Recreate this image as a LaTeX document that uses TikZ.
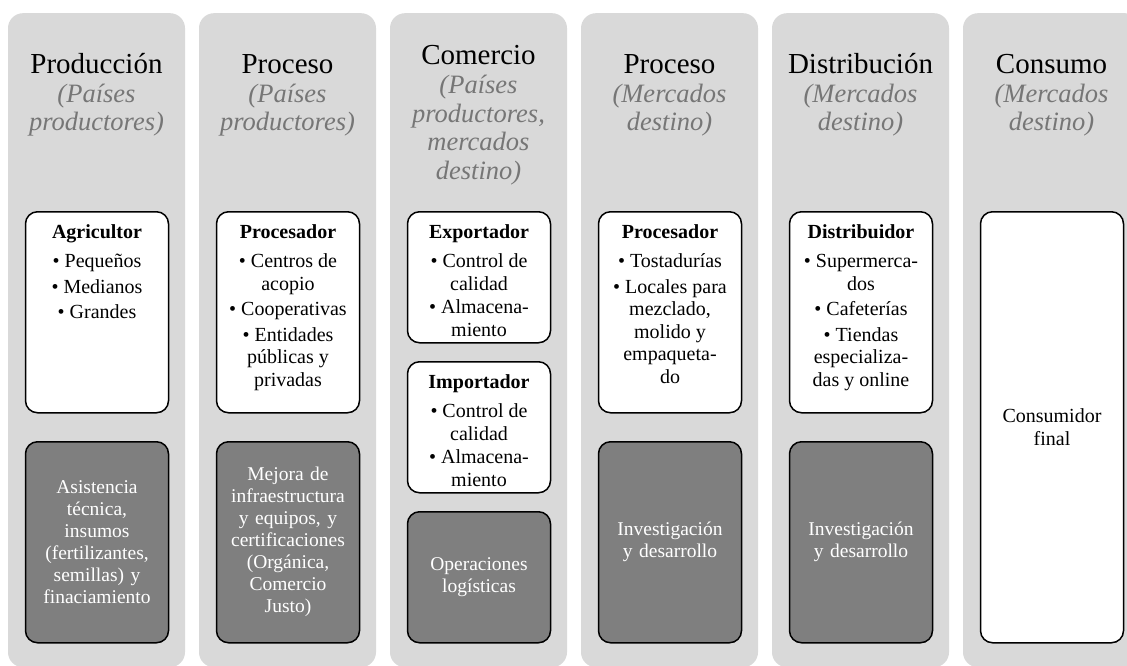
\documentclass[tikz,border=0pt]{standalone}
\usepackage{fontspec}
\setmainfont{Liberation Serif}
\usepackage{xcolor}
\usetikzlibrary{positioning}

\definecolor{colgray}{HTML}{D9D9D9}
\definecolor{boxgray}{HTML}{7F7F7F}
\definecolor{subgray}{HTML}{767676}

\newcommand{\stagefont}{\fontsize{29}{29}\selectfont}
\newcommand{\marketfont}{\fontsize{26.5}{28.5}\selectfont\itshape}
\newcommand{\boxfont}{\fontsize{20}{22.5}\selectfont}
\newcommand{\darkfont}{\fontsize{19.5}{22}\selectfont}

\begin{document}
\begin{tikzpicture}[
  x=1pt, y=-1pt,
  column/.style={fill=colgray, rounded corners=15pt, minimum width=177pt,
                 minimum height=654pt, anchor=north, inner sep=0pt},
  lightbox/.style={draw=black, line width=1.5pt, fill=white, rounded corners=12pt,
                   minimum width=143pt, anchor=north, inner sep=0pt},
  darkbox/.style={lightbox, fill=boxgray, text=white, font=\darkfont,
                  text width=136pt, align=center},
  stage/.style={font=\stagefont, anchor=base},
  market/.style={font=\marketfont, text=subgray, align=center, anchor=base},
  boxtext/.style={font=\boxfont, align=center, inner sep=0pt}
]
\useasboundingbox (0,0) rectangle (1127,666);
\clip (0,0) rectangle (1127,666);

% ---- COLUMNS ----
\node[column] (colprod) at (96.5,13) {};
\node[column] (colproc) at (287.5,13) {};
\node[column] (colcom) at (478.5,13) {};
\node[column] (colprocd) at (669.5,13) {};
\node[column] (coldist) at (860.5,13) {};
\node[column] (colcons) at (1051.5,13) {};

% ==== PRODUCCION ====
\node[stage] (tprod) at (96.5,74) {Producción};
\node[market] (mprod) at (96.5,131) {(Países\\productores)};

\node[lightbox, minimum height=201pt] (agri) at (97,211) {};
\node[boxtext, below=13pt of agri.north] (agritxt) {%
  \textbf{Agricultor}\\[7pt]
  \textbullet~Pequeños\\[3pt]
  \textbullet~Medianos\\[3pt]
  \textbullet~Grandes};

\node[darkbox, minimum height=201pt] (agrisup) at (97,441) {%
  Asistencia\\técnica,\\insumos\\(fertilizantes,\\semillas) y\\finaciamiento};

% ==== PROCESO (paises productores) ====
\node[stage] (tproc) at (287.5,74) {Proceso};
\node[market] (mproc) at (287.5,131) {(Países\\productores)};

\node[lightbox, minimum height=201pt] (proc) at (288,211) {};
\node[boxtext, below=13pt of proc.north] (proctxt) {%
  \textbf{Procesador}\\[7pt]
  \textbullet~Centros de\\acopio\\[3pt]
  \textbullet~Cooperativas\\[3pt]
  \textbullet~Entidades\\públicas y\\privadas};

\node[darkbox, minimum height=201pt] (procsup) at (288,441) {%
  Mejora de\\infraestructura\\y equipos, y\\certificaciones\\(Orgánica,\\Comercio\\Justo)};

% ==== COMERCIO ====
\node[stage] (tcom) at (478.5,65) {Comercio};
\node[market] (mcom) at (478.5,179) {(Países\\productores,\\mercados\\destino)};

\node[lightbox, minimum height=131pt] (expo) at (479,211) {};
\node[boxtext, below=13pt of expo.north] (expotxt) {%
  \textbf{Exportador}\\[7pt]
  \textbullet~Control de\\calidad\\[1pt]
  \textbullet~Almacena-\\miento};

\node[lightbox, minimum height=131pt] (impo) at (479,361) {};
\node[boxtext, below=13pt of impo.north] (impotxt) {%
  \textbf{Importador}\\[7pt]
  \textbullet~Control de\\calidad\\[1pt]
  \textbullet~Almacena-\\miento};

\node[darkbox, minimum height=131pt] (logis) at (479,511) {%
  Operaciones\\logísticas};

% ==== PROCESO (mercados destino) ====
\node[stage] (tprocd) at (669.5,74) {Proceso};
\node[market] (mprocd) at (669.5,131) {(Mercados\\destino)};

\node[lightbox, minimum height=201pt] (procd) at (670,211) {};
\node[boxtext, below=13pt of procd.north] (procdtxt) {%
  \textbf{Procesador}\\[7pt]
  \textbullet~Tostadurías\\[3pt]
  \textbullet~Locales para\\mezclado,\\molido y\\empaqueta-\\do};

\node[darkbox, minimum height=201pt] (procdsup) at (670,441) {%
  Investigación\\y desarrollo};

% ==== DISTRIBUCION ====
\node[stage] (tdist) at (860.5,74) {Distribución};
\node[market] (mdist) at (860.5,131) {(Mercados\\destino)};

\node[lightbox, minimum height=201pt] (dist) at (861,211) {};
\node[boxtext, below=13pt of dist.north] (disttxt) {%
  \textbf{Distribuidor}\\[7pt]
  \textbullet~Supermerca-\\dos\\[3pt]
  \textbullet~Cafeterías\\[3pt]
  \textbullet~Tiendas\\especializa-\\das y online};

\node[darkbox, minimum height=201pt] (distsup) at (861,441) {%
  Investigación\\y desarrollo};

% ==== CONSUMO ====
\node[stage] (tcons) at (1051.5,74) {Consumo};
\node[market] (mcons) at (1051.5,131) {(Mercados\\destino)};

\node[lightbox, minimum height=431pt, font=\boxfont, align=center] (cons)
  at (1052,211) {Consumidor\\final};

\end{tikzpicture}
\end{document}
